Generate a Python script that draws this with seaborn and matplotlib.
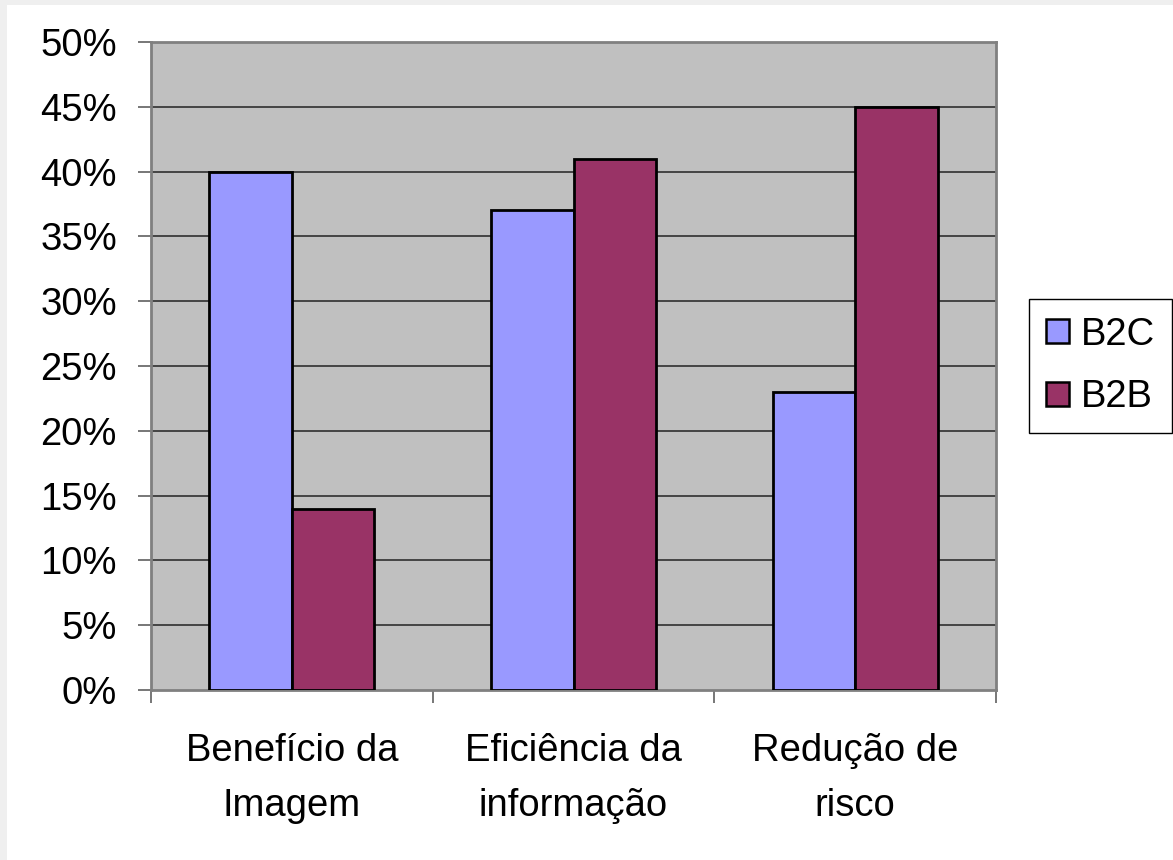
import matplotlib
matplotlib.use("Agg")
import matplotlib.pyplot as plt
import seaborn as sns
import pandas as pd
from matplotlib.patches import Rectangle
from matplotlib.ticker import FuncFormatter

categories = ["Benefício da\nImagem", "Eficiência da\ninformação", "Redução de\nrisco"]
series_names = ["B2C", "B2B"]
b2c_values = [40, 37, 23]
b2b_values = [14, 41, 45]
y_ticks = [0, 5, 10, 15, 20, 25, 30, 35, 40, 45, 50]

df = pd.DataFrame({
    "categoria": categories * 2,
    "serie": [series_names[0]] * 3 + [series_names[1]] * 3,
    "valor": b2c_values + b2b_values,
})

sns.set_theme(style="white")
plt.rcParams["font.family"] = ["Liberation Sans", "DejaVu Sans"]
plt.rcParams["text.color"] = "black"

fig = plt.figure(figsize=(11.73, 8.6), dpi=100)
fig.patches.append(Rectangle((0, 1 - 5 / 860), 1, 5 / 860, transform=fig.transFigure,
                             facecolor="#EFEFEF", edgecolor="none", zorder=0))
fig.patches.append(Rectangle((0, 0), 7 / 1173, 1, transform=fig.transFigure,
                             facecolor="#EFEFEF", edgecolor="none", zorder=0))

ax = fig.add_axes([151 / 1173, 1 - 690 / 860, (996 - 151) / 1173, (690 - 42) / 860])
ax.set_facecolor("#C0C0C0")

sns.barplot(data=df, x="categoria", y="valor", hue="serie",
            palette=["#9999FF", "#993366"], width=0.586,
            edgecolor="black", linewidth=2.0, saturation=1, ax=ax, zorder=3)

ax.set_ylim(0, 50)
ax.set_xlim(-0.5, 2.5)
ax.set_yticks(y_ticks)
ax.yaxis.set_major_formatter(FuncFormatter(lambda v, p: f"{int(v)}%"))
ax.set_xlabel("")
ax.set_ylabel("")

for y in y_ticks[1:-1]:
    ax.axhline(y, color="#3A3A3A", lw=1.3, zorder=1)

for s in ax.spines.values():
    s.set_color("#808080")
    s.set_linewidth(2)
    s.set_visible(True)

ax.tick_params(axis="y", which="major", direction="out", length=9.5, width=1.2,
               color="#606060", labelsize=27.5, pad=15, left=True, labelcolor="black")
ax.set_xticks([0, 1, 2])
ax.set_xticks([-0.5, 0.5, 1.5, 2.5], minor=True)
ax.set_xticklabels(categories, linespacing=1.68)
ax.tick_params(axis="x", which="major", length=0, labelsize=27.5, pad=31, labelcolor="black")
ax.tick_params(axis="x", which="minor", direction="out", length=9.5, width=1.2,
               color="#606060", bottom=True)

handles = [Rectangle((0, 0), 1, 1, facecolor=c, edgecolor="black", lw=1.8)
           for c in ["#9999FF", "#993366"]]
leg = ax.legend(handles, series_names, loc="center left",
                bbox_to_anchor=(1029 / 1173, 1 - 366 / 860), bbox_transform=fig.transFigure,
                fontsize=27.5, frameon=True, fancybox=False, edgecolor="black",
                framealpha=1, handlelength=0.6, handleheight=0.6, handletextpad=0.3,
                labelspacing=0.7, borderpad=0.45, borderaxespad=0, labelcolor="black")
leg.get_frame().set_linewidth(1.0)

fig.savefig("out.png", dpi=100, facecolor="white")
